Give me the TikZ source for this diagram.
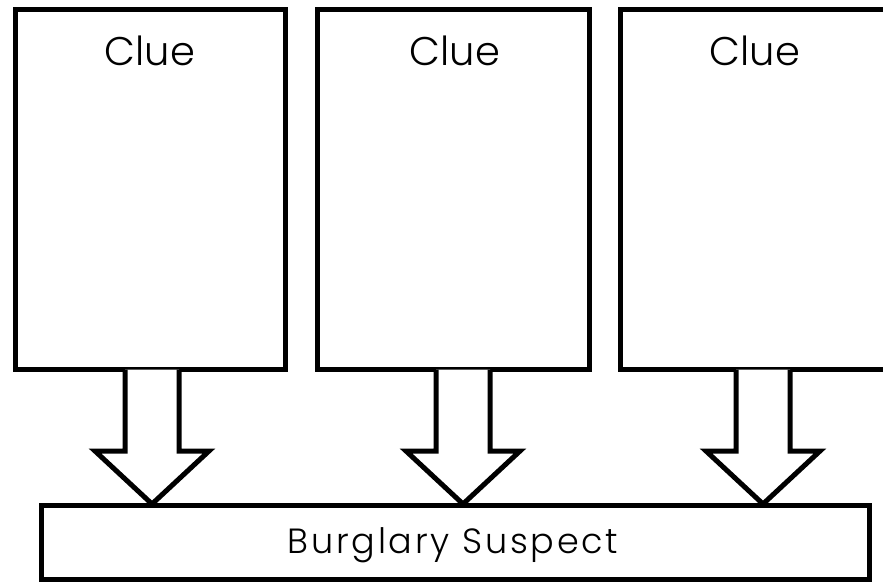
\documentclass[tikz,border=0pt]{standalone}
\usepackage{fontspec}
\setmainfont{Poppins}[UprightFont=* Light]
\newfontfamily\suspectfont{Poppins}[UprightFont=* Light, LetterSpace=8]
\usepackage{tikz}
\tikzset{>=latex}
\tikzset{
  cluebox/.style={draw, line width=5pt, minimum width=270pt, minimum height=360pt, inner sep=0pt},
  suspectbox/.style={draw, line width=5pt, minimum width=828pt, minimum height=74pt, inner sep=0pt},
  hollowarrow/.style={draw, line width=5pt, fill=white},
  cluetext/.style={anchor=base, font=\fontsize{40}{44}\selectfont},
}

\begin{document}
\begin{tikzpicture}[x=1pt,y=-1pt]
            \useasboundingbox (0,0) rectangle (883,582);
            \node[cluebox] (clue1) at (150.5,189.5) {};
            \node[cluebox, minimum width=272pt] (clue2) at (453,189.5) {};
            \node[cluebox] (clue3) at (755,189.5) {};
            \node[cluetext] (label1) at (150,65) {Clue};
            \node[cluetext] (label2) at (455,65) {Clue};
            \node[cluetext] (label3) at (755,65) {Clue};
            \node[suspectbox] (suspect) at (455.75,542.5) {};
            \node[anchor=base, font=\suspectfont\fontsize{35}{40}\selectfont] (suspecttext) at (453,553) {Burglary Suspect};
            % arrows from each clue down to the suspect
            \foreach \i/\x in {1/152,2/463,3/763} {
                \coordinate (from\i) at (\x,369.5);
                \coordinate (to\i) at (\x,504);
                \draw[hollowarrow] ([xshift=-27pt]from\i) -- ({\x-27},451) -- ({\x-57},451)
                    -- (to\i) -- ({\x+57},451) -- ({\x+27},451) -- ([xshift=27pt]from\i);
            }
        \end{tikzpicture}
\end{document}
